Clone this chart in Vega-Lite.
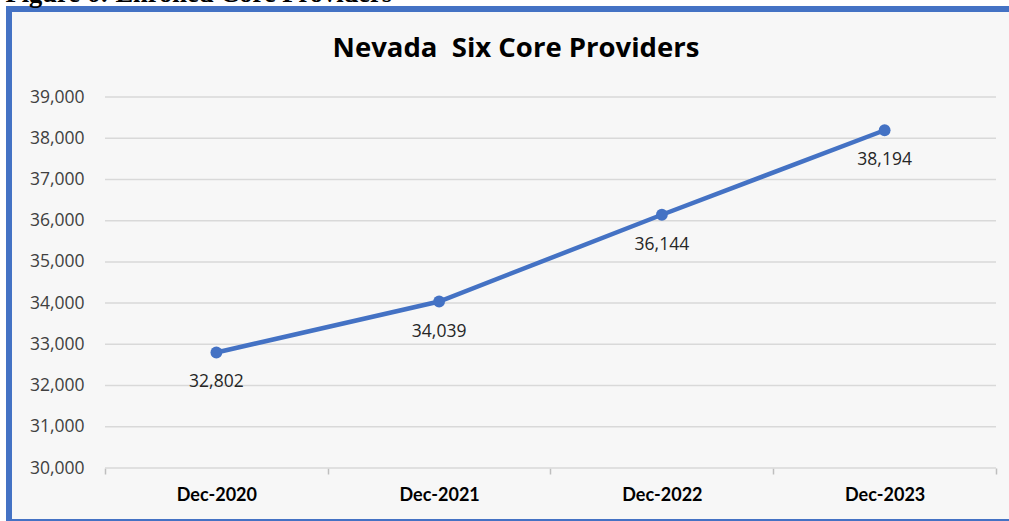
{
  "$schema": "https://vega.github.io/schema/vega-lite/v6.json",
  "width": 1006,
  "height": 513,
  "autosize": {"type": "none"},
  "padding": {"left": 9, "top": 9, "right": -6, "bottom": -1},
  "background": "#ffffff",
  "title": {
    "text": "Nevada\u00a0 Six Core Providers",
    "font": "Open Sans",
    "fontSize": 27.5,
    "fontWeight": "bold",
    "color": "#000000",
    "anchor": "middle",
    "frame": "group",
    "baseline": "middle",
    "offset": 0,
    "dx": 4,
    "dy": 96
  },
  "config": {
    "view": {"fill": "#f7f7f7", "stroke": "#4472c4", "strokeWidth": 6}
  },
  "datasets": {
    "series": [
      {"date": "Dec-2020", "providers": 32802},
      {"date": "Dec-2021", "providers": 34039},
      {"date": "Dec-2022", "providers": 36144},
      {"date": "Dec-2023", "providers": 38194}
    ],
    "grid": [
      {"level": 30000}, {"level": 31000}, {"level": 32000}, {"level": 33000}, {"level": 34000},
      {"level": 35000}, {"level": 36000}, {"level": 37000}, {"level": 38000}, {"level": 39000}
    ]
  },
  "layer": [
    {
      "data": {"name": "grid"},
      "mark": {"type": "rule", "color": "#d9d9d9", "strokeWidth": 1.5},
      "encoding": {
        "y": {
          "field": "level", "type": "quantitative",
          "scale": {"domain": [28690, 41135], "nice": false, "zero": false},
          "axis": {
            "values": [30000, 31000, 32000, 33000, 34000, 35000, 36000, 37000, 38000, 39000],
            "format": ",.0f", "grid": false, "domain": false, "ticks": false, "tickSize": 0,
            "labelPadding": 0, "offset": -75,
            "labelFont": "Open Sans", "labelFontSize": 17.5, "labelColor": "#404040",
            "title": "Figure 6: Enrolled Core Providers",
            "titleAngle": 0, "titleAlign": "left", "titleBaseline": "alphabetic",
            "titleX": -79, "titleY": -8,
            "titleFont": "Liberation Serif", "titleFontSize": 26.5, "titleFontWeight": "bold", "titleColor": "#000000"
          }
        },
        "x": {
          "datum": "Dec-2020", "type": "nominal", "bandPosition": 0,
          "scale": {"type": "band", "domain": ["Dec-2020", "Dec-2021", "Dec-2022", "Dec-2023"],
                    "paddingInner": 0, "paddingOuter": 0.2581, "align": 0.8348},
          "axis": {
            "orient": "bottom", "offset": -54, "domain": false, "grid": false,
            "ticks": true, "tickBand": "extent", "tickColor": "#bfbfbf", "tickSize": 6, "tickWidth": 1.5,
            "labelFont": "Lato", "labelFontWeight": "bold", "labelFontSize": 18, "labelColor": "#000000",
            "labelPadding": 12, "labelAngle": 0, "title": null
          }
        },
        "x2": {"datum": "Dec-2023", "bandPosition": 1}
      }
    },
    {
      "data": {"name": "series"},
      "encoding": {
        "x": {
          "field": "date", "type": "nominal",
          "scale": {"type": "band", "domain": ["Dec-2020", "Dec-2021", "Dec-2022", "Dec-2023"],
                    "paddingInner": 0, "paddingOuter": 0.2581, "align": 0.8348},
          "axis": {
            "orient": "bottom", "offset": -54, "domain": false, "grid": false,
            "ticks": true, "tickBand": "extent", "tickColor": "#bfbfbf", "tickSize": 6, "tickWidth": 1.5,
            "labelFont": "Lato", "labelFontWeight": "bold", "labelFontSize": 18, "labelColor": "#000000",
            "labelPadding": 12, "labelAngle": 0, "title": null
          }
        },
        "y": {
          "field": "providers", "type": "quantitative",
          "scale": {"domain": [28690, 41135], "nice": false, "zero": false},
          "axis": {
            "values": [30000, 31000, 32000, 33000, 34000, 35000, 36000, 37000, 38000, 39000],
            "format": ",.0f", "grid": false, "domain": false, "ticks": false, "tickSize": 0,
            "labelPadding": 0, "offset": -75,
            "labelFont": "Open Sans", "labelFontSize": 17.5, "labelColor": "#404040",
            "title": "Figure 6: Enrolled Core Providers",
            "titleAngle": 0, "titleAlign": "left", "titleBaseline": "alphabetic",
            "titleX": -79, "titleY": -8,
            "titleFont": "Liberation Serif", "titleFontSize": 26.5, "titleFontWeight": "bold", "titleColor": "#000000"
          }
        }
      },
      "layer": [
        {"mark": {"type": "line", "color": "#4472c4", "strokeWidth": 4.5}},
        {"mark": {"type": "point", "filled": true, "opacity": 1, "color": "#4472c4", "size": 140}},
        {
          "mark": {"type": "text", "dy": 30, "font": "Open Sans", "fontSize": 17.5, "color": "#262626"},
          "encoding": {"text": {"field": "providers", "type": "quantitative", "format": ","}}
        }
      ]
    }
  ]
}
